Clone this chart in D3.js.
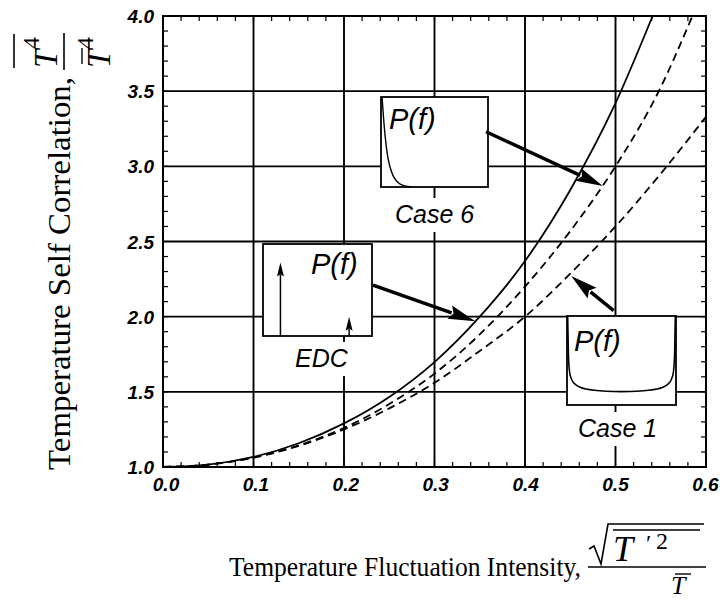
<!DOCTYPE html>
<html><head><meta charset="utf-8">
<script src="https://cdn.jsdelivr.net/npm/d3@7"></script>
<style>body{margin:0;background:#fff}</style>
</head><body><svg id="c" width="720" height="600" xmlns="http://www.w3.org/2000/svg"></svg>
<script>
// ---------- data ----------
const xTickValues = [0, 0.1, 0.2, 0.3, 0.4, 0.5, 0.6];
const xTickLabels = ["0.0", "0.1", "0.2", "0.3", "0.4", "0.5", "0.6"];
const yTickValues = [1.0, 1.5, 2.0, 2.5, 3.0, 3.5, 4.0];
const yTickLabels = ["1.0", "1.5", "2.0", "2.5", "3.0", "3.5", "4.0"];

// solid curve (EDC)
const edcX = [0, 0.05, 0.1, 0.15, 0.2, 0.25, 0.3, 0.35, 0.4, 0.45, 0.5, 0.541];
const edcY = [1.0, 1.016, 1.067, 1.158, 1.29, 1.466, 1.698, 2.0, 2.37, 2.843, 3.42, 4.0];
// upper dashed curve (Case 6)
const case6X = [0, 0.05, 0.1, 0.15, 0.2, 0.25, 0.3, 0.35, 0.4, 0.45, 0.5, 0.55, 0.585];
const case6Y = [1.0, 1.016, 1.063, 1.144, 1.26, 1.419, 1.621, 1.882, 2.2, 2.569, 3.0, 3.526, 4.0];
// lower dashed curve (Case 1)
const case1X = [0, 0.05, 0.1, 0.15, 0.2, 0.25, 0.3, 0.35, 0.4, 0.45, 0.5, 0.55, 0.6];
const case1Y = [1.0, 1.016, 1.062, 1.14, 1.25, 1.39, 1.56, 1.772, 2.0, 2.286, 2.6, 2.951, 3.33];

// inset PDF sketches (f normalised 0..1, P normalised 0..1)
const pdfCase6F = [0.01, 0.025, 0.04, 0.06, 0.085, 0.12, 0.16, 0.2, 0.28];
const pdfCase6P = [1.0, 0.75, 0.55, 0.36, 0.22, 0.11, 0.05, 0.02, 0.0];
const pdfCase1F = [0.006, 0.01, 0.016, 0.03, 0.06, 0.12, 0.25, 0.5, 0.75, 0.88, 0.94, 0.97, 0.984, 0.99, 0.994];
const pdfCase1P = [1.0, 0.75, 0.48, 0.33, 0.25, 0.2, 0.165, 0.15, 0.165, 0.2, 0.25, 0.33, 0.48, 0.75, 1.0];
const pdfEdcF = [0.16, 0.79];
const pdfEdcP = [0.8, 0.21];

// ---------- layout ----------
const L = 163, R = 706, T = 16, B = 467;
const svg = d3.select("#c");
const x = d3.scaleLinear().domain([0, 0.6]).range([L, R]);
const y = d3.scaleLinear().domain([1, 4]).range([B, T]);
const sans = "'Liberation Sans', Arial, Helvetica, sans-serif";
const serif = "'Liberation Serif', 'Times New Roman', serif";

// gridlines
const grid = svg.append("g").attr("stroke", "#000").attr("stroke-width", 1.9);
xTickValues.slice(1, -1).forEach(v => grid.append("line")
  .attr("x1", x(v)).attr("x2", x(v)).attr("y1", T).attr("y2", B));
yTickValues.slice(1, -1).forEach(v => grid.append("line")
  .attr("x1", L).attr("x2", R).attr("y1", y(v)).attr("y2", y(v)));

// minor ticks
const minor = svg.append("g").attr("stroke", "#000").attr("stroke-width", 1.2);
d3.range(0, 0.6001, 0.02).forEach(v => {
  minor.append("line").attr("x1", x(v)).attr("x2", x(v)).attr("y1", B).attr("y2", B - 5);
  minor.append("line").attr("x1", x(v)).attr("x2", x(v)).attr("y1", T).attr("y2", T + 5);
});
d3.range(1, 4.0001, 0.1).forEach(v => {
  minor.append("line").attr("x1", L).attr("x2", L + 5).attr("y1", y(v)).attr("y2", y(v));
  minor.append("line").attr("x1", R).attr("x2", R - 5).attr("y1", y(v)).attr("y2", y(v));
});

// tick labels
svg.append("g").selectAll("text").data(xTickValues).join("text")
  .attr("x", d => x(d) + 3 - d * 6).attr("y", 491)
  .attr("text-anchor", "middle")
  .attr("font-family", sans).attr("font-size", 19).attr("font-weight", "bold").attr("font-style", "italic")
  .text((d, i) => xTickLabels[i]);
svg.append("g").selectAll("text").data(yTickValues).join("text")
  .attr("x", 154).attr("y", d => y(d) + 7)
  .attr("text-anchor", "end")
  .attr("font-family", sans).attr("font-size", 19).attr("font-weight", "bold").attr("font-style", "italic")
  .text((d, i) => yTickLabels[i]);

// ---------- insets ----------
const inset = svg.append("g");
function labelWithBg(txt, lx, ly, size) {
  const t = inset.append("text").attr("x", lx).attr("y", ly)
    .attr("font-family", sans).attr("font-style", "italic").attr("font-size", size).text(txt);
  const bb = t.node().getBBox();
  inset.insert("rect", () => t.node())
    .attr("x", bb.x - 4).attr("y", bb.y - 2).attr("width", bb.width + 8).attr("height", bb.height + 6)
    .attr("fill", "#fff");
  return t;
}
function box(x0, y0, w, h) {
  inset.append("rect").attr("x", x0).attr("y", y0).attr("width", w).attr("height", h)
    .attr("fill", "#fff").attr("stroke", "#000").attr("stroke-width", 1.8);
  return {x: d3.scaleLinear().range([x0, x0 + w]), y: d3.scaleLinear().range([y0 + h, y0])};
}
function arrow(g, x1, y1, x2, y2, lw, hl, hw) {
  const dx = x2 - x1, dy = y2 - y1, len = Math.hypot(dx, dy), ux = dx / len, uy = dy / len;
  const bx = x2 - ux * hl, by = y2 - uy * hl;
  g.append("line").attr("x1", x1).attr("y1", y1).attr("x2", bx + ux * 2).attr("y2", by + uy * 2)
    .attr("stroke", "#000").attr("stroke-width", lw);
  g.append("path").attr("d", `M${x2},${y2}L${bx - uy * hw / 2},${by + ux * hw / 2}L${bx + ux * hl * 0.15},${by + uy * hl * 0.15}L${bx + uy * hw / 2},${by - ux * hw / 2}Z`)
    .attr("fill", "#000");
}
function pfText(px, py) {
  inset.append("text").attr("x", px).attr("y", py).attr("font-family", sans)
    .attr("font-style", "italic").attr("font-size", 29).text("P(f)");
}

// Case 6 inset
const s6 = box(381, 97, 107, 90);
inset.append("path").attr("fill", "none").attr("stroke", "#000").attr("stroke-width", 1.4)
  .attr("d", d3.line().curve(d3.curveCatmullRom)(pdfCase6F.map((f, i) => [s6.x(f), s6.y(pdfCase6P[i])])));
pfText(389, 129);
labelWithBg("Case 6", 395, 223, 25);

// EDC inset
const se = box(263, 244, 109, 92);
pdfEdcF.forEach((f, i) => arrow(inset, se.x(f), se.y(0), se.x(f), se.y(pdfEdcP[i]), 1.5, 14, 7));
pfText(311, 274);
labelWithBg("EDC", 295, 367, 25);

// Case 1 inset
const s1 = box(567, 316, 109, 89);
inset.append("path").attr("fill", "none").attr("stroke", "#000").attr("stroke-width", 1.6)
  .attr("d", d3.line().curve(d3.curveCatmullRom)(pdfCase1F.map((f, i) => [s1.x(f), s1.y(pdfCase1P[i])])));
pfText(574, 351);
labelWithBg("Case 1", 578, 437, 25);

// ---------- curves ----------
const line = d3.line().curve(d3.curveMonotoneX);
const curves = svg.append("g").attr("fill", "none").attr("stroke", "#000");
curves.append("path").attr("stroke-width", 1.8)
  .attr("d", line(edcX.map((v, i) => [x(v), y(edcY[i])])));
curves.append("path").attr("stroke-width", 1.8).attr("stroke-dasharray", "8,5")
  .attr("d", line(case6X.map((v, i) => [x(v), y(case6Y[i])])));
curves.append("path").attr("stroke-width", 1.8).attr("stroke-dasharray", "8,5")
  .attr("d", line(case1X.map((v, i) => [x(v), y(case1Y[i])])));

// pointer arrows (tail at inset, tip at curve, data coords)
const ptr = svg.append("g");
arrow(ptr, x(0.357), y(3.23), x(0.486), y(2.87), 3.5, 27, 14);
arrow(ptr, x(0.232), y(2.21), x(0.345), y(1.97), 3.5, 27, 14);
arrow(ptr, x(0.498), y(2.04), x(0.451), y(2.27), 3.5, 27, 14);

// frame
svg.append("rect").attr("x", L).attr("y", T).attr("width", R - L).attr("height", B - T)
  .attr("fill", "none").attr("stroke", "#000").attr("stroke-width", 2);

// ---------- axis titles ----------
svg.append("text").attr("x", 229).attr("y", 576)
  .attr("font-family", serif).attr("font-size", 28)
  .attr("textLength", 352).attr("lengthAdjust", "spacingAndGlyphs")
  .text("Temperature Fluctuation Intensity,");
const xf = svg.append("g").attr("font-family", serif).attr("font-style", "italic");
xf.append("path").attr("fill", "none").attr("stroke", "#000").attr("stroke-width", 1.6)
  .attr("d", "M589,549 L594,546 L601,564 L608,524 L704,524");
xf.append("line").attr("x1", 613).attr("x2", 700).attr("y1", 530).attr("y2", 530).attr("stroke", "#000").attr("stroke-width", 1.4);
xf.append("text").attr("x", 613).attr("y", 561).attr("font-size", 36).text("T");
xf.append("text").attr("x", 646).attr("y", 551).attr("font-size", 24).attr("font-style", "normal").text("\u2032");
xf.append("text").attr("x", 656).attr("y", 549).attr("font-size", 24).attr("font-style", "normal").text("2");
xf.append("line").attr("x1", 588).attr("x2", 706).attr("y1", 567).attr("y2", 567).attr("stroke", "#000").attr("stroke-width", 1.6);
xf.append("text").attr("x", 671).attr("y", 594).attr("font-size", 26).text("T");
xf.append("line").attr("x1", 675).attr("x2", 691).attr("y1", 574).attr("y2", 574).attr("stroke", "#000").attr("stroke-width", 1.4);

// y title (rotated)
const yg = svg.append("g").attr("transform", "translate(70,470) rotate(-90)");
yg.append("text").attr("x", 0).attr("y", 0)
  .attr("font-family", serif).attr("font-size", 32)
  .attr("textLength", 393).attr("lengthAdjust", "spacingAndGlyphs")
  .text("Temperature Self Correlation,");
const yfr = yg.append("g").attr("font-family", serif).attr("font-style", "italic");
yfr.append("line").attr("x1", 402).attr("x2", 436).attr("y1", -56).attr("y2", -56).attr("stroke", "#000").attr("stroke-width", 1.6);
yfr.append("text").attr("x", 402).attr("y", -13).attr("font-size", 33).text("T");
yfr.append("text").attr("x", 421).attr("y", -31).attr("font-size", 24).attr("font-style", "normal").text("4");
yfr.append("line").attr("x1", 400).attr("x2", 437).attr("y1", -6).attr("y2", -6).attr("stroke", "#000").attr("stroke-width", 1.6);
yfr.append("text").attr("x", 402).attr("y", 40).attr("font-size", 33).text("T");
yfr.append("line").attr("x1", 406).attr("x2", 422).attr("y1", 12).attr("y2", 12).attr("stroke", "#000").attr("stroke-width", 1.4);
yfr.append("text").attr("x", 421).attr("y", 23).attr("font-size", 24).attr("font-style", "normal").text("4");
</script>
</body></html>
